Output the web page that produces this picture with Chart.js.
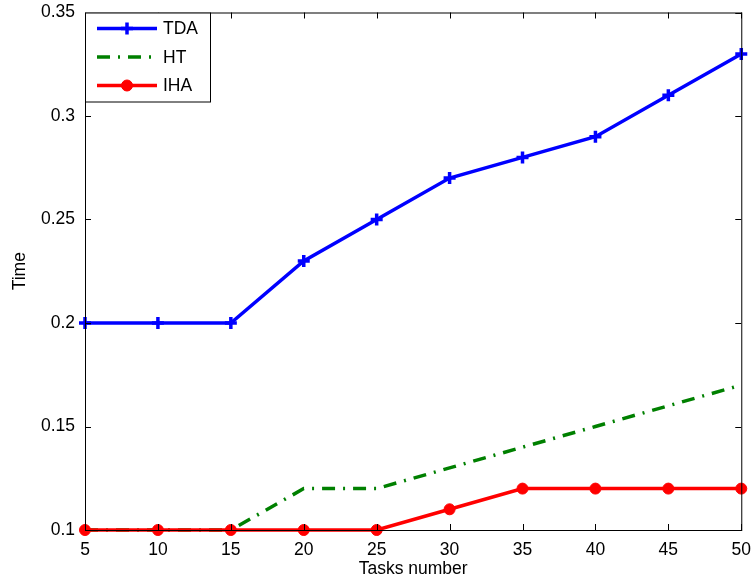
<!DOCTYPE html>
<html>
<head>
<meta charset="utf-8">
<script src="https://cdn.jsdelivr.net/npm/chart.js@4"></script>
<style>
  html, body { margin: 0; padding: 0; background: #fff; }
  #wrap { width: 753px; height: 584px; }
</style>
</head>
<body>
<div id="wrap"><canvas id="chart" width="753" height="584"></canvas></div>
<script>
const tasks = [5, 10, 15, 20, 25, 30, 35, 40, 45, 50];
const tda = [0.2, 0.2, 0.2, 0.23, 0.25, 0.27, 0.28, 0.29, 0.31, 0.33];
const ht  = [0.1, 0.1, 0.1, 0.12, 0.12, 0.13, 0.14, 0.15, 0.16, 0.17];
const iha = [0.1, 0.1, 0.1, 0.1, 0.1, 0.11, 0.12, 0.12, 0.12, 0.12];
const yTicks = ['0.1', '0.15', '0.2', '0.25', '0.3', '0.35'];

const font = { family: 'Liberation Sans, Arial, sans-serif', size: 17.5 };
const pts = arr => arr.map((v, i) => ({ x: tasks[i], y: v }));

// matlab style box with inward ticks
const boxPlugin = {
  id: 'box',
  afterDraw(chart) {
    const { ctx, chartArea: a, scales } = chart;
    ctx.save();
    ctx.strokeStyle = '#000';
    ctx.lineWidth = 1;
    ctx.strokeRect(a.left + 0.5, a.top + 0.5, a.right - a.left, a.bottom - a.top);
    ctx.beginPath();
    tasks.forEach(t => {
      const x = Math.round(scales.x.getPixelForValue(t)) + 0.5;
      ctx.moveTo(x, a.bottom); ctx.lineTo(x, a.bottom - 6);
      ctx.moveTo(x, a.top); ctx.lineTo(x, a.top + 6);
    });
    yTicks.forEach(t => {
      const y = Math.round(scales.y.getPixelForValue(+t)) + 0.5;
      ctx.moveTo(a.left, y); ctx.lineTo(a.left + 6, y);
      ctx.moveTo(a.right, y); ctx.lineTo(a.right - 6, y);
    });
    ctx.stroke();

    // legend
    const lx = a.left, ly = a.top, lw = 125, lh = 89;
    ctx.fillStyle = '#fff';
    ctx.fillRect(lx, ly, lw, lh);
    ctx.strokeRect(lx + 0.5, ly + 0.5, lw, lh);
    chart.data.datasets.forEach((ds, i) => {
      const y = ly + 16 + i * 28.5;
      ctx.save();
      ctx.strokeStyle = ds.borderColor;
      ctx.fillStyle = ds.borderColor;
      ctx.lineWidth = ds.borderWidth;
      ctx.setLineDash(ds.borderDash || []);
      ctx.beginPath();
      ctx.moveTo(lx + 12, y); ctx.lineTo(lx + 72, y);
      ctx.stroke();
      ctx.setLineDash([]);
      if (ds.pointRadius > 0) {
        ctx.lineWidth = ds.pointBorderWidth;
        Chart.helpers.drawPoint(ctx, {
          pointStyle: ds.pointStyle, radius: ds.pointRadius, borderWidth: ds.pointBorderWidth
        }, lx + 42, y);
      }
      ctx.restore();
      ctx.fillStyle = '#000';
      ctx.font = '17.5px Liberation Sans, Arial, sans-serif';
      ctx.textBaseline = 'middle';
      ctx.fillText(ds.label, lx + 78, y + 1);
    });
    ctx.restore();
  }
};

new Chart(document.getElementById('chart'), {
  type: 'line',
  data: {
    datasets: [
      { label: 'TDA', data: pts(tda), borderColor: '#0000ff', backgroundColor: '#0000ff',
        pointBackgroundColor: '#0000ff', borderWidth: 3.5, pointStyle: 'cross', pointRadius: 6,
        pointBorderWidth: 3.5, order: 2, clip: false },
      { label: 'HT', data: pts(ht), borderColor: '#008000', backgroundColor: '#008000',
        borderWidth: 3.5, borderDash: [13, 8, 2, 8], pointRadius: 0, order: 1, clip: false },
      { label: 'IHA', data: pts(iha), borderColor: '#ff0000', backgroundColor: '#ff0000',
        pointBackgroundColor: '#ff0000', borderWidth: 3.5, pointStyle: 'circle', pointRadius: 5.5,
        pointBorderWidth: 1, order: 0, clip: false }
    ]
  },
  options: {
    responsive: false,
    animation: false,
    layout: { padding: { top: 12, right: 11, left: 6, bottom: 0 } },
    plugins: { legend: { display: false }, tooltip: { enabled: false } },
    scales: {
      x: {
        type: 'linear', min: 5, max: 50,
        afterBuildTicks: s => { s.ticks = tasks.map(v => ({ value: v })); },
        afterFit: s => { s.height = 54; },
        grid: { display: false }, border: { display: false },
        ticks: { color: '#000', font, padding: 2, maxRotation: 0 },
        title: { display: true, text: 'Tasks number', color: '#000', font, padding: { top: 0 } }
      },
      y: {
        min: 0.1, max: 0.35,
        afterBuildTicks: s => { s.ticks = yTicks.map(v => ({ value: +v })); },
        afterFit: s => { s.width = 79; },
        grid: { display: false }, border: { display: false },
        ticks: { color: '#000', font, padding: 2, callback: v => yTicks.find(t => +t === v) },
        title: { display: true, text: 'Time', color: '#000', font, padding: { bottom: 8 } }
      }
    }
  },
  plugins: [boxPlugin]
});
</script>
</body>
</html>
